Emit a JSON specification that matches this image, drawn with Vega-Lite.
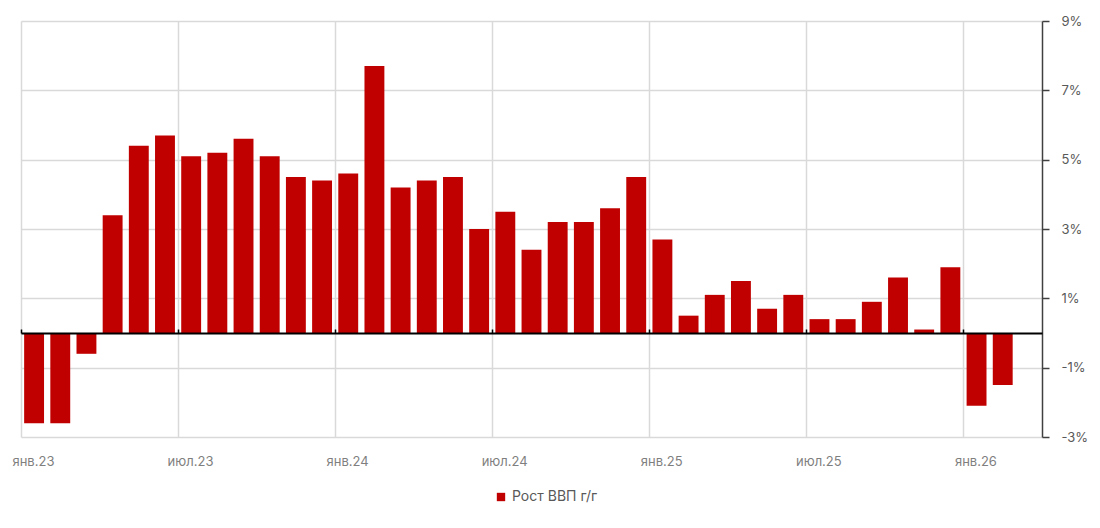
{
  "$schema": "https://vega.github.io/schema/vega-lite/v6.json",
  "autosize": "none",
  "width": 1021,
  "height": 416,
  "padding": {"left": 21, "top": 21, "right": 58, "bottom": 91},
  "background": "white",
  "config": {
    "view": {"stroke": null},
    "font": "Inter",
    "axis": {"labelFont": "Inter", "labelColor": "#7f7f7f", "labelFontSize": 13}
  },
  "data": {
    "values": [
      {"m": "янв.23", "v": -2.6}, {"m": "фев.23", "v": -2.6}, {"m": "мар.23", "v": -0.6},
      {"m": "апр.23", "v": 3.4}, {"m": "май.23", "v": 5.4}, {"m": "июн.23", "v": 5.7},
      {"m": "июл.23", "v": 5.1}, {"m": "авг.23", "v": 5.2}, {"m": "сен.23", "v": 5.6},
      {"m": "окт.23", "v": 5.1}, {"m": "ноя.23", "v": 4.5}, {"m": "дек.23", "v": 4.4},
      {"m": "янв.24", "v": 4.6}, {"m": "фев.24", "v": 7.7}, {"m": "мар.24", "v": 4.2},
      {"m": "апр.24", "v": 4.4}, {"m": "май.24", "v": 4.5}, {"m": "июн.24", "v": 3.0},
      {"m": "июл.24", "v": 3.5}, {"m": "авг.24", "v": 2.4}, {"m": "сен.24", "v": 3.2},
      {"m": "окт.24", "v": 3.2}, {"m": "ноя.24", "v": 3.6}, {"m": "дек.24", "v": 4.5},
      {"m": "янв.25", "v": 2.7}, {"m": "фев.25", "v": 0.5}, {"m": "мар.25", "v": 1.1},
      {"m": "апр.25", "v": 1.5}, {"m": "май.25", "v": 0.7}, {"m": "июн.25", "v": 1.1},
      {"m": "июл.25", "v": 0.4}, {"m": "авг.25", "v": 0.4}, {"m": "сен.25", "v": 0.9},
      {"m": "окт.25", "v": 1.6}, {"m": "ноя.25", "v": 0.1}, {"m": "дек.25", "v": 1.9},
      {"m": "янв.26", "v": -2.1}, {"m": "фев.26", "v": -1.5}
    ]
  },
  "resolve": {"axis": {"x": "independent"}},
  "layer": [
    {
      "mark": {"type": "bar", "color": "#c00000"},
      "encoding": {
        "x": {
          "field": "m",
          "type": "ordinal",
          "sort": null,
          "title": null,
          "scale": {
            "domain": [
              "янв.23","фев.23","мар.23","апр.23","май.23","июн.23","июл.23","авг.23","сен.23","окт.23","ноя.23","дек.23",
              "янв.24","фев.24","мар.24","апр.24","май.24","июн.24","июл.24","авг.24","сен.24","окт.24","ноя.24","дек.24",
              "янв.25","фев.25","мар.25","апр.25","май.25","июн.25","июл.25","авг.25","сен.25","окт.25","ноя.25","дек.25",
              "янв.26","фев.26","мар.26"
            ],
            "paddingInner": 0.24,
            "paddingOuter": 0.12
          },
          "axis": {
            "values": ["янв.23","июл.23","янв.24","июл.24","янв.25","июл.25","янв.26"],
            "labelAngle": 0,
            "labelPadding": 18,
            "labelOffset": 2,
            "ticks": false,
            "domain": false,
            "grid": true,
            "gridColor": "#d9d9d9",
            "gridWidth": 1.5,
            "bandPosition": 0,
            "tickOffset": -3.14
          }
        },
        "y": {
          "field": "v",
          "type": "quantitative",
          "title": null,
          "scale": {"domain": [-3, 9], "nice": false, "zero": true},
          "axis": {
            "orient": "right",
            "values": [-3, -1, 1, 3, 5, 7, 9],
            "labelExpr": "datum.value + '%'",
            "labelColor": "#595959",
            "labelPadding": 12,
            "grid": true,
            "gridColor": "#d9d9d9",
            "gridWidth": 1.5,
            "domainColor": "#404040",
            "domainWidth": 1.5,
            "tickColor": "#404040",
            "tickWidth": 1.5,
            "tickSize": 7
          }
        },
        "color": {
          "datum": "Рост ВВП г/г",
          "scale": {"range": ["#c00000"]},
          "legend": {
            "title": null,
            "orient": "none",
            "legendX": 473,
            "legendY": 469,
            "symbolType": "square",
            "symbolSize": 70,
            "labelFont": "Inter",
            "labelFontSize": 14,
            "labelColor": "#595959",
            "labelOffset": 4
          }
        }
      }
    },
    {
      "mark": {"type": "bar", "opacity": 0},
      "encoding": {
        "x": {
          "field": "m",
          "type": "ordinal",
          "sort": null,
          "axis": {
            "values": ["янв.23","июл.23","янв.24","июл.24","янв.25","июл.25","янв.26"],
            "offset": -312,
            "labels": false,
            "title": null,
            "grid": false,
            "domain": true,
            "domainColor": "#000000",
            "domainWidth": 2,
            "ticks": true,
            "tickColor": "#000000",
            "tickWidth": 1.5,
            "tickSize": 4,
            "bandPosition": 0,
            "tickOffset": -3.14,
            "zindex": 1
          }
        },
        "y": {"field": "v", "type": "quantitative"}
      }
    }
  ]
}
